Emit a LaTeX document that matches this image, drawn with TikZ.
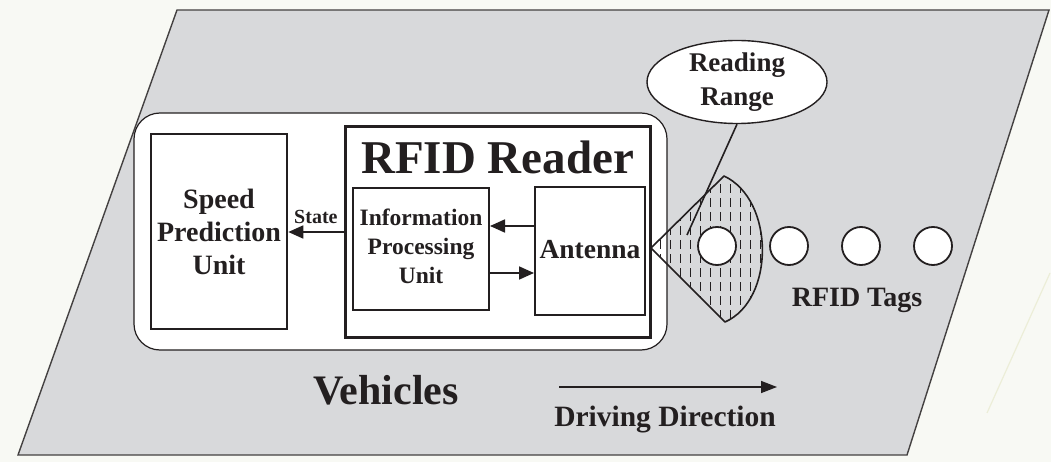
\documentclass[tikz,border=0pt]{standalone}
\usepackage{fontspec}
\setmainfont{Liberation Serif}
\usetikzlibrary{arrows.meta,shapes.geometric}
\definecolor{pagebg}{RGB}{248,249,244}
\definecolor{roadgray}{RGB}{216,217,219}
\definecolor{inkc}{RGB}{35,31,32}
\definecolor{faint}{RGB}{236,238,216}
\begin{document}
\begin{tikzpicture}[x=1pt,y=-1pt,
  txt/.style={font=\bfseries\fontsize{#1}{#1}\selectfont, text=inkc, align=center, inner sep=0pt},
  boxa/.style={draw=inkc, fill=white, line width=#1, inner sep=0pt},
  arr/.style={draw=inkc, line width=1.8pt, -{Triangle[length=15pt,width=13pt]}},
  tag/.style={circle, draw=inkc, fill=white, line width=1.8pt, minimum size=38pt, inner sep=0pt}]
% background and bounding box
\fill[pagebg] (0,0) rectangle (1051,462);
\useasboundingbox (0,0) rectangle (1051,462);
\draw[faint, line width=1.2pt] (1050,273) -- (987,413);
% road (parallelogram)
\draw[fill=roadgray, draw=inkc!85, line width=1.4pt] (177,10) -- (1049,10) -- (907,455) -- (18,455) -- cycle;
% vehicle rounded box
\node[draw=inkc, fill=white, line width=1.2pt, rounded corners=26pt, minimum width=533pt, minimum height=237pt] (veh) at (400.5,231.5) {};
% speed prediction unit
\node[boxa=2.6pt, minimum width=136pt, minimum height=195pt] (spd) at (219,231.5) {};
\node[txt=28, text width=136pt, font=\bfseries\fontsize{28}{33}\selectfont] (spdt) at (219,232) {Speed\\Prediction\\Unit};
% RFID reader
\node[boxa=3pt, minimum width=305pt, minimum height=210pt] (rfid) at (497.5,232) {};
\node[txt=47] (rfidt) at (497.5,157) {RFID Reader};
\node[boxa=2pt, minimum width=136pt, minimum height=122pt] (info) at (421,249) {};
\node[txt=23.5, font=\bfseries\fontsize{23.5}{29}\selectfont] (infot) at (421,246) {Information\\Processing\\Unit};
\node[boxa=2pt, minimum width=110pt, minimum height=128pt] (ant) at (590,251) {};
\node[txt=27.5] (antt) at (590,250) {Antenna};
% arrows inside reader
\coordinate (a1) at ([yshift=25pt]ant.west);
\draw[arr] (a1) -- (a1 -| info.east);
\coordinate (a2) at ([yshift=-24pt]info.east);
\draw[arr] (a2) -- (a2 -| ant.west);
\draw[arr] (rfid.west) -- (rfid.west -| spd.east) node[midway, above=7pt, txt=20] (state) {State};
% reading cone
\coordinate (apex) at (651,248);
\begin{scope}
\clip (apex) -- (724,176) .. controls (775,200) and (775,300) .. (725,322) -- cycle;
\foreach \xx in {660,670,...,770} {
  \draw[inkc, line width=0.9pt, dash pattern=on 9pt off 5pt] (\xx,170) -- (\xx,330);
}
\end{scope}
\draw[inkc, line width=1.6pt, line join=round] (apex) -- (724,176) .. controls (775,200) and (775,300) .. (725,322) -- cycle;
% tags
\node[tag] (t1) at (717,246) {};
\node[tag] (t2) at (789,246) {};
\node[tag] (t3) at (861,246) {};
\node[tag] (t4) at (933,246) {};
\node[txt=28] (tagst) at (857,300) {RFID Tags};
% reading range callout
\node[ellipse, draw=inkc, fill=white, line width=1.4pt, minimum width=180pt, minimum height=69pt, inner sep=0pt, font=\bfseries\fontsize{27}{34}\selectfont, text=inkc, align=center] (rr) at (737,82) {Reading\\Range};
\coordinate (rrp) at (687,235);
\draw[inkc, line width=1.6pt] (rr.south) -- (rrp);
% bottom labels
\node[txt=42] (vehl) at (386,390) {Vehicles};
\coordinate (d0) at (559,387);
\coordinate (d1) at (777,387);
\draw[inkc, line width=1.5pt, -{Triangle[length=16pt,width=12pt]}] (d0) -- (d1);
\node[txt=29.5] (drv) at (665,420) {Driving Direction};
\end{tikzpicture}
\end{document}
